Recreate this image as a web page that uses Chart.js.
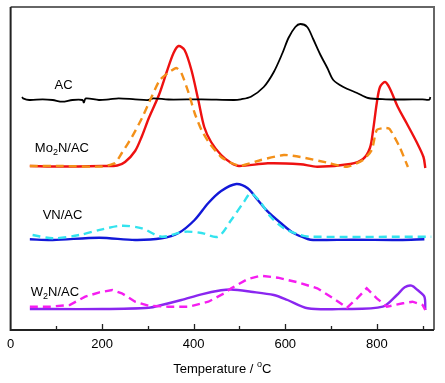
<!DOCTYPE html>
<html>
<head>
<meta charset="utf-8">
<script src="https://cdn.jsdelivr.net/npm/chart.js@4"></script>
<style>
  html,body{margin:0;padding:0;background:#fff;}
  #wrap{width:445px;height:383px;}
</style>
</head>
<body>
<div id="wrap"><canvas id="c" width="445" height="383"></canvas></div>
<script>
// Temperature (°C) and stacked signal (arbitrary units, offset per sample)
const acT  = [25,27,41,70,92,113,135,157,160,164,193,215,236,272,301,312,345,417,488,503,525,553,575,594,607,622,633,648,661,677,692,705,727,757,781,820,860,900,915,917];
const acY  = [233,231.7,230,230.7,230,228.3,230,230,227.5,231.5,230,230.7,231.7,230.7,230,231.7,230.5,230.7,230,230.7,233.3,243,258,277,292,303,306,303,291,275,262,250,243,237,232,230.7,230.5,230.7,230.3,233];

const moT  = [42,113,200,233,250,272,287,302,324,341,356,367,380,395,410,423,438,460,482,499,562,633,670,742,770,785,792,800,807,818,828,846,865,887,902,906];
const moY  = [164,163.5,164,164.5,168,179,194,212,235,258,277,284,280,260,230,203,188,175,167,164,166.7,165.7,163.3,166,171,182,200,227,243,248,242,223,207,188,173,162];

const moRefT = [42,113,200,228,243,265,287,308,326,347,362,373,389,402,417,434,460,482,503,547,597,633,692,735,770,789,800,818,828,850,868];
const moRefY = [164,164,163.5,167,177,193,212,233,250,258,262,257,237,217,200,187,173,167,164.3,170,175,173,167.3,163.3,170,180,200,202,201,183,163];

const vnT  = [42,92,194,272,330,367,402,432,460,493,518,540,562,590,618,649,661,750,850,904];
const vnY  = [90.7,90,92.3,90,91.7,97,110,127,139,146,141.7,130,118.3,107,97,91,90,90.3,90,90.7];

const vnRefT = [48,92,150,200,243,287,330,380,417,453,482,510,525,547,568,597,633,655,919];
const vnRefY = [95,91.7,95,100.7,104.3,101.7,93.3,98.3,97,93.3,110,128.3,136.7,127,113.3,101.7,95,93.3,93.3];

const wT   = [42,200,302,330,373,417,460,482,525,575,605,649,727,813,844,861,876,889,904,906];
const wY   = [21,21,22.3,25,30,35.7,39.7,40.5,38.3,35,30,21.7,21,23.3,35,42.7,44.3,40,33.3,20];

const wRefT = [42,85,129,163,194,222,243,272,302,345,389,432,467,482,518,547,584,627,670,705,735,757,778,800,822,857,878,900,906];
const wRefY = [23.3,23.3,25,33.3,37.7,40,36.7,28.3,24.3,23.3,23.3,28.3,36.7,41.7,51,54.3,52.3,47.7,41.7,31.7,22.3,31.7,41.7,31.7,23.3,26.7,28.3,25,20];

const xTicks = [0,100,200,300,400,500,600,700,800,900];

function pts(xs, ys){ return xs.map((x,i)=>({x:x, y:ys[i]})); }

// sample labels placed in data coordinates
const sampleLabels = [
  {parts:[["AC",0]], x:96, y:240.7},
  {parts:[["Mo",0],["2",1],["N/AC",0]], x:53, y:177.7},
  {parts:[["VN/AC",0]], x:70, y:111},
  {parts:[["W",0],["2",1],["N/AC",0]], x:44, y:34.3}
];

const decor = {
  id:'decor',
  afterDraw(chart){
    const ctx = chart.ctx, a = chart.chartArea, xs = chart.scales.x, ys = chart.scales.y;
    ctx.save();
    ctx.lineWidth = 2;
    ctx.strokeStyle = '#666';
    ctx.beginPath(); ctx.moveTo(a.left, a.top); ctx.lineTo(a.right, a.top); ctx.lineTo(a.right, a.bottom); ctx.stroke();
    ctx.strokeStyle = '#222';
    ctx.beginPath(); ctx.moveTo(a.left, a.top); ctx.lineTo(a.left, a.bottom); ctx.lineTo(a.right, a.bottom); ctx.stroke();
    ctx.lineWidth = 1.3;
    xTicks.forEach(v=>{
      if (v === 0) return;
      const px = Math.round(xs.getPixelForValue(v)) + 0.5;
      const len = (v % 200 === 0) ? 6 : 4;
      ctx.beginPath(); ctx.moveTo(px, a.bottom); ctx.lineTo(px, a.bottom - len); ctx.stroke();
    });
    ctx.fillStyle = '#000';
    ctx.textBaseline = 'alphabetic';
    sampleLabels.forEach(l=>{
      let px = xs.getPixelForValue(l.x), py = ys.getPixelForValue(l.y);
      l.parts.forEach(([t,sub])=>{
        ctx.font = sub ? '9px "Liberation Sans", Arial, sans-serif' : '13px "Liberation Sans", Arial, sans-serif';
        ctx.fillText(t, px, py + (sub ? 3 : 0));
        px += ctx.measureText(t).width;
      });
    });
    const parts = [["Temperature / ",0],["o",1],["C",0]];
    let w = 0;
    parts.forEach(([t,sup])=>{ ctx.font = sup ? '9px "Liberation Sans", Arial, sans-serif' : '13px "Liberation Sans", Arial, sans-serif'; w += ctx.measureText(t).width; });
    let tx = (a.left + a.right)/2 - w/2, ty = 373;
    parts.forEach(([t,sup])=>{
      ctx.font = sup ? '9px "Liberation Sans", Arial, sans-serif' : '13px "Liberation Sans", Arial, sans-serif';
      ctx.fillText(t, tx, ty - (sup ? 6 : 0));
      tx += ctx.measureText(t).width;
    });
    ctx.restore();
  }
};

function ds(data, color, dashed, tension, width){
  return {data, borderColor:color, borderWidth:width||2.4, borderDash: dashed ? [8,5] : [], pointRadius:0, tension:tension, fill:false};
}

new Chart(document.getElementById('c'), {
  type:'line',
  data:{datasets:[
    ds(pts(moRefT, moRefY), '#f39019', true, 0.2),
    ds(pts(vnRefT, vnRefY), '#33e3ee', true, 0.3),
    ds(pts(wRefT, wRefY), '#f51df0', true, 0),
    ds(pts(acT, acY), '#000000', false, 0.3, 1.8),
    ds(pts(moT, moY), '#ee1111', false, 0.3),
    ds(pts(vnT, vnY), '#1218d8', false, 0.3),
    ds(pts(wT, wY), '#8a26f0', false, 0.3)
  ]},
  options:{
    responsive:false,
    animation:false,
    layout:{padding:{left:7.5, right:11, top:7, bottom:0}},
    plugins:{legend:{display:false}, tooltip:{enabled:false}},
    scales:{
      x:{type:'linear', min:0, max:925,
         afterFit(s){ s.height = 53; },
         border:{display:false},
         grid:{display:false, drawTicks:false},
         ticks:{stepSize:100, includeBounds:false, autoSkip:false, maxRotation:0, padding:7, color:'#000',
                font:{family:'"Liberation Sans", Arial, sans-serif', size:13},
                callback:(v)=> (v % 200 === 0 ? String(v) : '')}
      },
      y:{display:false, min:0, max:323}
    }
  },
  plugins:[decor]
});
</script>
</body>
</html>
